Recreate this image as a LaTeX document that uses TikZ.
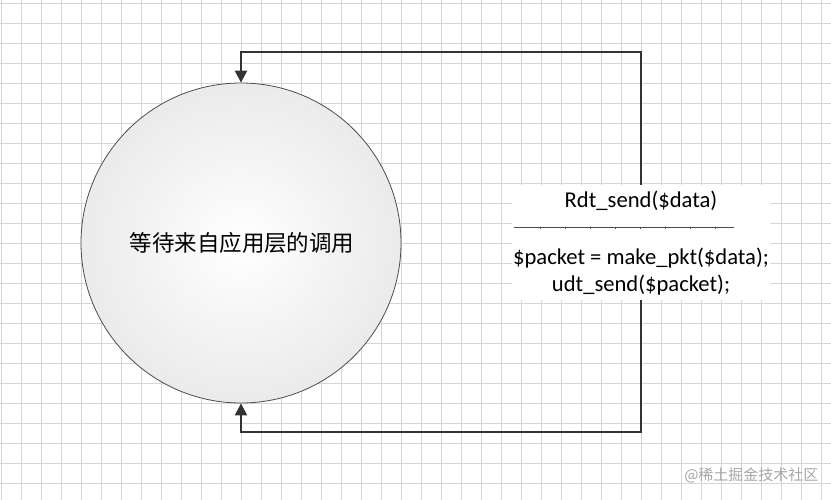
\documentclass[tikz,border=0pt]{standalone}
\usepackage{fontspec}
\setmainfont{Carlito}
\newfontfamily\cjk{Noto Sans CJK SC}
\usetikzlibrary{arrows.meta}
\tikzset{
  flow/.style={draw=black!80, line width=2.4pt, -{Triangle[length=12pt,width=12pt]}},
  lbl/.style={font=\fontsize{22.6}{26}\selectfont, inner sep=0pt}
}
\begin{document}
\begin{tikzpicture}[x=1pt,y=-1pt]
\useasboundingbox (0,0) rectangle (831,500);
\fill[white] (0,0) rectangle (831,500);
\foreach \i in {1,21,...,821} \draw[black!16, line width=0.8pt] (\i,0) -- (\i,500);
\foreach \j in {3,23,...,500} \draw[black!16, line width=0.8pt] (0,\j) -- (831,\j);
\shade[inner color=white, outer color=black!8] (241,243) circle (160);
\node[draw=black!70, line width=0.8pt, circle, minimum size=320pt, inner sep=0pt] (st) at (241,243) {};
\node[font=\cjk\fontsize{22.5}{26}\selectfont] at (242,243) {等待来自应用层的调用};
\fill[white] (512,185) rectangle (770,300);
\coordinate (tr) at (641,52);
\coordinate (tl) at (241,52);
\coordinate (br) at (641,432);
\coordinate (bl) at (241,432);
\draw[flow] (641,185) -- (tr) -- (tl) -- (st.north);
\draw[flow] (641,300) -- (br) -- (bl) -- (st.south);
\node[lbl] (l1) at (641,201) {Rdt\_send(\$data)};
\draw[black!70, line width=0.8pt] (514,227) -- (734,227);
\foreach \x in {540,565,590,615,640,665,690,715} \draw[black!70,line width=0.8pt] (\x,227) -- (\x,229);
\node[lbl] (l2) at (641,258) {\$packet = make\_pkt(\$data);};
\node[lbl] (l3) at (641,285) {udt\_send(\$packet);};
\node[font=\cjk\fontsize{15}{18}\selectfont, text=black!35, anchor=east] (wm) at (822,475) {@稀土掘金技术社区};
\end{tikzpicture}
\end{document}
